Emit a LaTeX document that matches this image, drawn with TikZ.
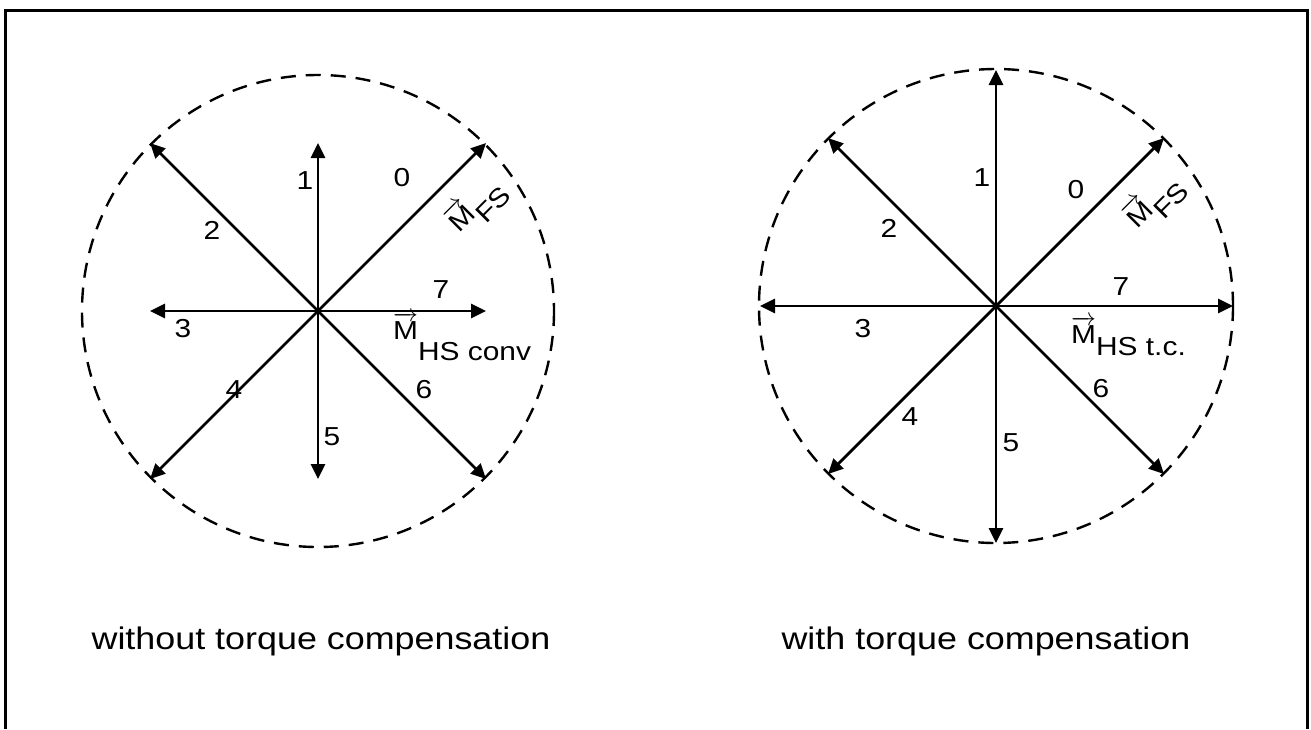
\documentclass[tikz,border=0pt]{standalone}
\usepackage{fontspec}
\usepackage{amsmath}
\setmainfont{Liberation Sans}[FakeStretch=1.15]
\usetikzlibrary{arrows.meta}
\newcommand\vM{\ensuremath{\overrightarrow{\text{M}}}}
\begin{document}
\begin{tikzpicture}[x=1pt,y=-1pt,
  vec/.style={line width=2.8pt,-{Triangle[length=15pt,width=14pt]}},
  rim/.style={line width=2.4pt,dash pattern=on 15pt off 10pt},
  num/.style={font=\fontsize{26}{31}\selectfont,inner sep=0pt},
  lab/.style={font=\fontsize{26}{31}\selectfont,inner sep=0pt},
  captext/.style={font=\fontsize{31.2}{37}\selectfont,inner sep=0pt},
  frameline/.style={line width=3pt}]
\useasboundingbox (0,0) rectangle (1311,729);
% frame
\coordinate (fa) at (5.5,729);
\coordinate (fb) at (5.5,10.5);
\coordinate (fc) at (1307,10.5);
\coordinate (fd) at (1307,729);
\draw[frameline] (fa) -- (fb) -- (fc) -- (fd);

% ---------- left diagram ----------
\coordinate (cL) at (318,311);
\coordinate (L0) at (486,143);
\coordinate (L1) at (318,143);
\coordinate (L2) at (150,143);
\coordinate (L3) at (150,311);
\coordinate (L4) at (150,479);
\coordinate (L5) at (318,479);
\coordinate (L6) at (486,479);
\coordinate (L7) at (486,311);
\draw[rim] (cL) circle[radius=236];
\foreach \i in {0,...,7} \draw[vec] (cL) -- (L\i);
\node[num] (nL1) at (305,181) {1};
\node[num] (nL0) at (402,178) {0};
\node[num] (nL2) at (212,230) {2};
\node[num] (nL3) at (183,329) {3};
\node[num] (nL7) at (441,290) {7};
\node[num] (nL4) at (234,390) {4};
\node[num] (nL5) at (332,437) {5};
\node[num] (nL6) at (424,390) {6};
\node[lab,rotate=45] (mfsL) at (477,206) {\vM\raisebox{-12pt}{FS}};
\node[lab,anchor=base west] (mhsL) at (393,339) {\vM\raisebox{-21pt}{HS conv}};
\node[captext] (capL) at (321,641) {without torque compensation};

% ---------- right diagram ----------
\coordinate (cR) at (996,306);
\coordinate (R0) at (1164,138);
\coordinate (R1) at (996,70);
\coordinate (R2) at (828,138);
\coordinate (R3) at (760,306);
\coordinate (R4) at (828,474);
\coordinate (R5) at (996,543);
\coordinate (R6) at (1164,474);
\coordinate (R7) at (1233,306);
\draw[rim] (cR) circle[radius=237];
\foreach \i in {0,...,7} \draw[vec] (cR) -- (R\i);
\node[num] (nR1) at (982,178) {1};
\node[num] (nR0) at (1076,190) {0};
\node[num] (nR2) at (889,228) {2};
\node[num] (nR3) at (863,329) {3};
\node[num] (nR7) at (1121,287) {7};
\node[num] (nR4) at (910,417) {4};
\node[num] (nR5) at (1011,443) {5};
\node[num] (nR6) at (1101,389) {6};
\node[lab,rotate=45] (mfsR) at (1155,202) {\vM\raisebox{-12pt}{FS}};
\node[lab,anchor=base west] (mhsR) at (1071,343) {\vM\raisebox{-12pt}{HS t.c.}};
\node[captext] (capR) at (986,641) {with torque compensation};
\end{tikzpicture}
\end{document}
